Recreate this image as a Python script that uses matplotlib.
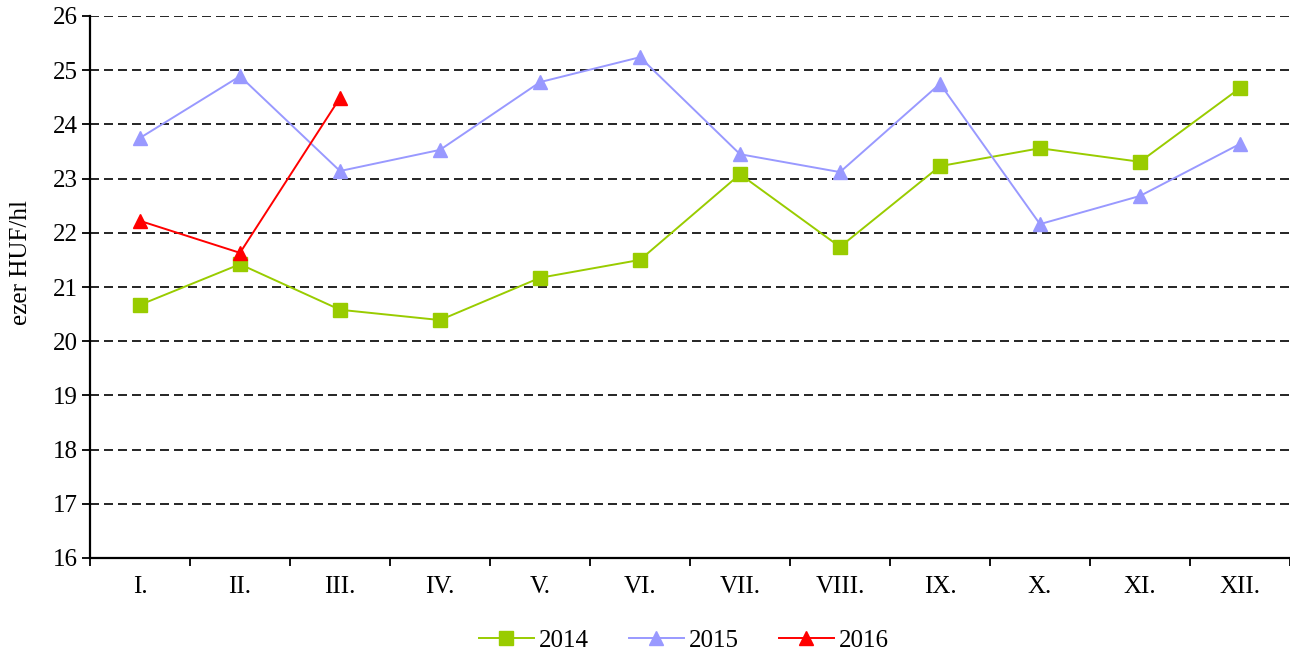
import matplotlib.pyplot as plt
import numpy as np

plt.rcParams['font.family'] = ['Liberation Serif', 'DejaVu Serif']

# 月份（羅馬數字）
months = ['I.', 'II.', 'III.', 'IV.', 'V.', 'VI.', 'VII.', 'VIII.', 'IX.', 'X.', 'XI.', 'XII.']

# ezer HUF/hl
vals_2014 = [20.67, 21.42, 20.58, 20.39, 21.17, 21.50, 23.08, 21.74, 23.23, 23.56, 23.31, 24.67]
vals_2015 = [23.75, 24.89, 23.14, 23.53, 24.78, 25.24, 23.45, 23.12, 24.75, 22.16, 22.68, 23.64]
vals_2016 = [22.22, 21.63, 24.49]

fig = plt.figure(figsize=(12.9, 6.55), dpi=100)
ax = fig.add_axes([90 / 1290, 1 - 558 / 655, 1200 / 1290, 542 / 655])

x = np.arange(len(months))
ax.plot(x, vals_2014, color='#99CC00', linewidth=1.4, marker='s', markersize=9.5, label='2014')
ax.plot(x, vals_2015, color='#9999FF', linewidth=1.4, marker='^', markersize=9.5, label='2015')
ax.plot(x[:len(vals_2016)], vals_2016, color='#FF0000', linewidth=1.4, marker='^', markersize=9.5, label='2016')

ax.set_xlim(-0.5, len(months) - 0.5)
ax.set_ylim(16, 26)
ax.set_yticks(np.arange(16, 27, 1))
ax.set_xticks(x)
ax.set_xticklabels(months, fontsize=18)
ax.set_xticks(np.arange(-0.5, len(months), 1), minor=True)
ax.tick_params(axis='x', which='major', length=0, pad=13)
ax.tick_params(axis='x', which='minor', length=6, width=1.3, direction='out')
ax.tick_params(axis='y', labelsize=18, length=6, width=1.3, direction='out', pad=3)

for s in ['top', 'right']:
    ax.spines[s].set_visible(False)
for s in ['left', 'bottom']:
    ax.spines[s].set_linewidth(1.6)

ax.yaxis.grid(True, color='black', linestyle=(0, (5.4, 3)), linewidth=1.2)
ax.set_axisbelow(True)

ax.set_ylabel('ezer HUF/hl', fontsize=18)
ax.yaxis.set_label_coords(-0.048, 0.546)

fig.legend(loc='lower center', bbox_to_anchor=(0.53, -0.03), ncol=3, frameon=False,
           fontsize=18, handlelength=2.2, handletextpad=0.2, columnspacing=1.6)

fig.savefig('out.png', dpi=100)
